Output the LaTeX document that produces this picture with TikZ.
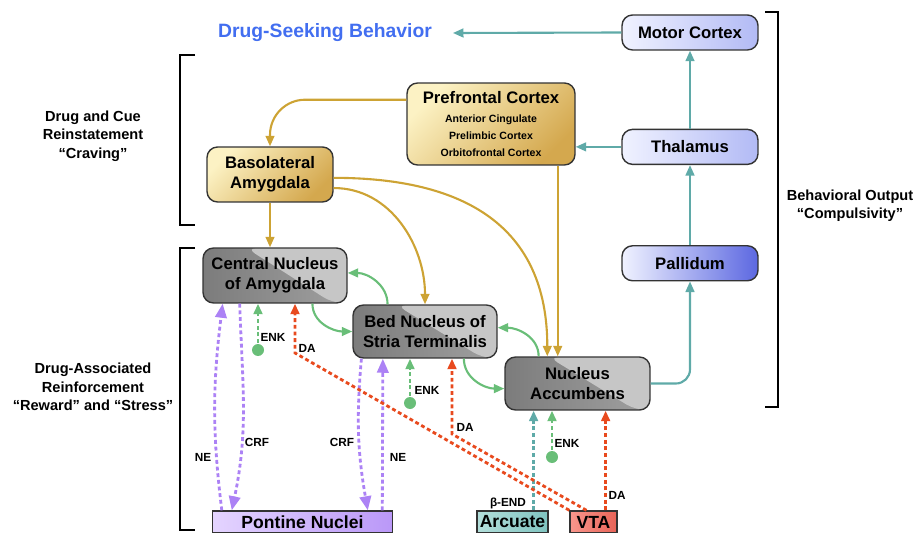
\documentclass[tikz,border=0pt]{standalone}
\usepackage{fontspec}
\setmainfont{Liberation Sans}
\usepackage{tikz}
\usetikzlibrary{arrows.meta,positioning,calc}
\definecolor{seekblue}{RGB}{66,110,240}
\definecolor{pathteal}{RGB}{95,170,168}
\definecolor{pathgold}{RGB}{205,163,52}
\definecolor{pathgreen}{RGB}{105,190,120}
\definecolor{pathred}{RGB}{232,74,30}
\definecolor{pathpurple}{RGB}{172,130,245}
\definecolor{goldlt}{RGB}{252,242,196}
\definecolor{golddk}{RGB}{212,168,78}
\definecolor{bluelt}{RGB}{240,242,255}
\definecolor{bluemd}{RGB}{178,186,245}
\definecolor{bluedk}{RGB}{92,104,225}
\definecolor{nuclt}{RGB}{198,198,198}
\definecolor{nucdk}{RGB}{124,124,124}
\definecolor{nucmd}{RGB}{160,160,160}
\definecolor{pontlt}{RGB}{228,212,255}
\definecolor{pontdk}{RGB}{186,152,248}
\definecolor{arclt}{RGB}{178,222,218}
\definecolor{arcdk}{RGB}{128,196,192}
\definecolor{vtalt}{RGB}{248,150,140}
\definecolor{vtadk}{RGB}{232,100,88}

\begin{document}
\begin{tikzpicture}[x=0.02cm,y=-0.02cm,font=\bfseries,>={Triangle[length=6pt,width=5pt]},line width=1.2pt]
  \tikzstyle{box}=[draw=black!80,line width=0.8pt,rounded corners=6pt,align=center,inner sep=1pt,font=\fontsize{9.5}{11.5}\selectfont\bfseries]
  \tikzstyle{ctx}=[box,top color=goldlt,bottom color=golddk,shading angle=45]
  \tikzstyle{outp}=[box,left color=bluelt,right color=bluemd,minimum width=2.72cm,minimum height=0.7cm]
  \tikzstyle{nuc}=[box,left color=nucdk,right color=nucmd,path picture={\fill[nuclt] ($(path picture bounding box.north west)!0.3!(path picture bounding box.north east)$) -- (path picture bounding box.north east) -- (path picture bounding box.south east) -- ($(path picture bounding box.south west)!0.9!(path picture bounding box.south east)$) -- cycle;}]
  \tikzstyle{src}=[draw=black!80,line width=0.8pt,minimum height=0.44cm,inner sep=0pt,font=\fontsize{10}{12}\selectfont\bfseries]
  \tikzstyle{side}=[align=center,font=\fontsize{8.3}{10.5}\selectfont\bfseries]
  \tikzstyle{lbl}=[inner sep=0pt,font=\fontsize{6.7}{8}\selectfont\bfseries]
  \tikzstyle{dot}=[circle,fill=pathgreen,inner sep=0pt,minimum size=0.24cm]
  \tikzstyle{dsh}=[line width=1.6pt,dash pattern=on 2.2pt off 1.6pt]
  \tikzstyle{ptip}=[-{Triangle[length=8pt,width=6.5pt]}]
  \useasboundingbox (0,0) rectangle (915,533);

  \node[outp] (motor) at (690,32.5) {Motor Cortex};
  \node[outp,below=1.56cm of motor] (thal) {Thalamus};
  \node[outp,right color=bluedk,below=1.6cm of thal] (pall) {Pallidum};
  \node[ctx,minimum width=3.36cm,minimum height=1.64cm,font=\fontsize{6}{9.6}\selectfont\bfseries] (pfc) at (491,124) {{\fontsize{9.5}{11}\selectfont Prefrontal Cortex}\\[1pt] Anterior Cingulate\\ Prelimbic Cortex\\ Orbitofrontal Cortex};
  \node[ctx,minimum width=2.52cm,minimum height=1.1cm] (bla) at (270,174.5) {Basolateral\\Amygdala};
  \node[nuc,minimum width=2.88cm,minimum height=1.1cm] (cea) at (275,275.5) {Central Nucleus\\of Amygdala};
  \node[nuc,minimum width=2.88cm,minimum height=1.06cm] (bnst) at (425,331.5) {Bed Nucleus of\\Stria Terminalis};
  \node[nuc,minimum width=2.9cm,minimum height=1.06cm] (nacc) at (577.5,383.5) {Nucleus\\Accumbens};
  \node[src,left color=pontlt,right color=pontdk,minimum width=3.6cm] (pont) at (302.5,522) {Pontine Nuclei};
  \node[src,left color=arclt,right color=arcdk,minimum width=1.42cm] (arc) at (512.5,522) {Arcuate};
  \node[src,left color=vtalt,right color=vtadk,minimum width=0.94cm] (vta) at (593.5,522) {VTA};

  \node[text=seekblue,font=\fontsize{11}{13}\selectfont\bfseries,inner sep=0pt,outer xsep=12pt] (seek) at (325,33) {Drug-Seeking Behavior};
  \node[side] (crave) at (93,136) {Drug and Cue\\Reinstatement\\“Craving”};
  \node[side] (reward) at (93,387) {Drug-Associated\\Reinforcement\\“Reward” and “Stress”};
  \node[side] (compul) at (850,206) {Behavioral Output\\“Compulsivity”};

  \draw[line width=1.3pt] (765,12) -- (778,12) -- (778,407) -- (765,407);
  \draw[line width=1.3pt] (195,55) -- (180,55) -- (180,225) -- (195,225);
  \draw[line width=1.3pt] (195,248) -- (180,248) -- (180,530) -- (195,530);

  \draw[->,pathteal] (pall) -- (thal); \draw[->,pathteal] (thal) -- (motor);
  \draw[->,pathteal,rounded corners=8pt] (nacc.east) -| (pall.south);
  \draw[->,pathteal] (motor.west) -- (seek.east);
  \draw[->,pathteal] (thal.west) -- (thal.west -| pfc.east);

  \draw[->,pathgold,rounded corners=20pt] (pfc.164) -| (bla.north);
  \draw[->,pathgold] (bla.south) -- (bla.south |- cea.north);
  \draw[->,pathgold] (bla.-12) to[out=0,in=90] (bnst.north);
  \draw[->,pathgold] (bla.-3) to[out=0,in=90,looseness=1.2] (nacc.138);
  \draw[->,pathgold] (nacc.126 |- pfc.south) -- (nacc.126);

  \draw[->,pathgreen] (bnst.144) to[out=90,in=0] (cea.2);
  \draw[->,pathgreen] (cea.-37) to[out=-90,in=180] (bnst.west);
  \draw[->,pathgreen] (nacc.145) to[out=90,in=0] (bnst.3);
  \draw[->,pathgreen] (bnst.-35) to[out=-90,in=180] (nacc.184);

  \node[dot] (enka) at (258,350) {};
  \node[dot] (enkb) at (410,403) {};
  \node[dot] (enkc) at (552,457) {};
  \draw[->,pathgreen,dsh] (enka) -- (enka |- cea.south);
  \draw[->,pathgreen,dsh] (enkb) -- (enkb |- bnst.south);
  \draw[->,pathgreen,dsh] (enkc) -- (enkc |- nacc.south);

  \draw[->,pathteal,dsh] (arc.29) -- (arc.29 |- nacc.south);

  \draw[pathpurple,dsh,ptip] ($(pont.north west)!0.055!(pont.north east)$) to[out=97,in=-97] ($(cea.south west)!0.14!(cea.south east)$);
  \draw[pathpurple,dsh,ptip] ($(cea.south west)!0.257!(cea.south east)$) to[out=-88,in=78] ($(pont.north west)!0.11!(pont.north east)$);
  \draw[pathpurple,dsh,ptip] ($(bnst.south west)!0.0625!(bnst.south east)$) to[out=-95,in=100] ($(pont.north west)!0.86!(pont.north east)$);
  \draw[pathpurple,dsh,ptip] ($(pont.north west)!0.94!(pont.north east)$) -- ($(bnst.south west)!0.21!(bnst.south east)$);

  \coordinate (kca) at (295,353);
  \coordinate (kbn) at (452,434);
  \draw[->,pathred,dsh] (vta.north west) -- (kca) -- (kca |- cea.south);
  \draw[->,pathred,dsh] (vta.121) -- (kbn) -- (kbn |- bnst.south);
  \draw[->,pathred,dsh] (vta.44) -- (vta.44 |- nacc.south);

  \node[lbl] (nea) at (203,457) {NE};
  \node[lbl] (crfa) at (257,442) {CRF};
  \node[lbl] (crfb) at (342,442) {CRF};
  \node[lbl] (neb) at (398,457) {NE};
  \node[lbl] (enkal) at (273,337) {ENK};
  \node[lbl] (enkbl) at (427,390) {ENK};
  \node[lbl] (enkcl) at (567,443) {ENK};
  \node[lbl] (daa) at (307,348) {DA};
  \node[lbl] (dab) at (465,427) {DA};
  \node[lbl] (dac) at (617,495) {DA};
  \node[lbl] (bend) at (508,503) {β-END};
\end{tikzpicture}
\end{document}
